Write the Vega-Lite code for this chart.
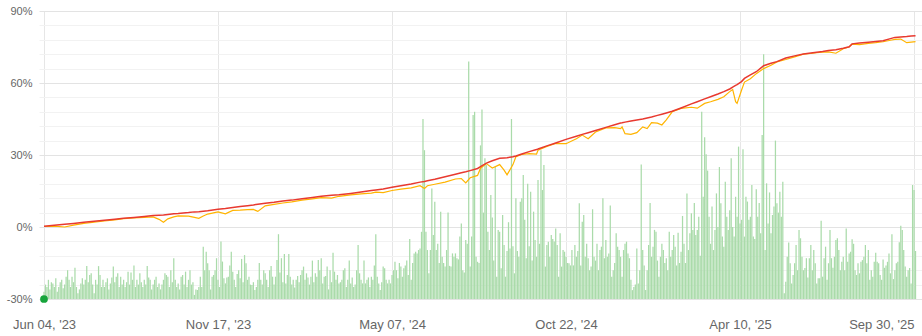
{
"$schema":"https://vega.github.io/schema/vega-lite/v6.json",
"width":883,"height":288,
"autosize":{"type":"none"},
"padding":{"left":39,"top":11,"right":0,"bottom":37},
"background":"white",
"config":{"view":{"stroke":null},"axis":{"domain":false,"ticks":false,"labelColor":"#666666","labelFont":"Liberation Sans","title":null,"labelOverlap":false,"labelFlush":false,"labelBound":false},
 "axisY":{"labelFontSize":11,"labelPadding":7},"axisX":{"labelFontSize":13,"labelPadding":19}},
"resolve":{"axis":{"y":"independent"}},
"datasets":{
"bars":[
{"i":0,"v":-27},{"i":1,"v":-24},{"i":2,"v":-25},{"i":3,"v":-22},{"i":4,"v":-26},{"i":5,"v":-23},{"i":6,"v":-23.5},{"i":7,"v":-25},{"i":8,"v":-21.4},{"i":9,"v":-27},
{"i":10,"v":-25},{"i":11,"v":-23},{"i":12,"v":-22},{"i":13,"v":-25.5},{"i":14,"v":-24},{"i":15,"v":-20.7},{"i":16,"v":-18},{"i":17,"v":-22},{"i":18,"v":-25},{"i":19,"v":-20.7},
{"i":20,"v":-23},{"i":21,"v":-17},{"i":22,"v":-25},{"i":23,"v":-27.6},{"i":24,"v":-26},{"i":25,"v":-23.5},{"i":26,"v":-21.4},{"i":27,"v":-24},{"i":28,"v":-22},{"i":29,"v":-16.3},
{"i":30,"v":-23},{"i":31,"v":-20},{"i":32,"v":-19.3},{"i":33,"v":-24},{"i":34,"v":-27.6},{"i":35,"v":-22},{"i":36,"v":-24},{"i":37,"v":-16.3},{"i":38,"v":-20},{"i":39,"v":-25},
{"i":40,"v":-22},{"i":41,"v":-25},{"i":42,"v":-23},{"i":43,"v":-21.4},{"i":44,"v":-26},{"i":45,"v":-23.5},{"i":46,"v":-21},{"i":47,"v":-16.5},{"i":48,"v":-23},{"i":49,"v":-20.7},
{"i":50,"v":-19.3},{"i":51,"v":-25},{"i":52,"v":-20.7},{"i":53,"v":-24},{"i":54,"v":-22},{"i":55,"v":-25},{"i":56,"v":-23},{"i":57,"v":-18.6},{"i":58,"v":-24},{"i":59,"v":-19},
{"i":60,"v":-22},{"i":61,"v":-16},{"i":62,"v":-25},{"i":63,"v":-22},{"i":64,"v":-24},{"i":65,"v":-19.3},{"i":66,"v":-23},{"i":67,"v":-25},{"i":68,"v":-22},{"i":69,"v":-24},
{"i":70,"v":-16.3},{"i":71,"v":-21},{"i":72,"v":-22},{"i":73,"v":-26},{"i":74,"v":-24},{"i":75,"v":-22},{"i":76,"v":-20.7},{"i":77,"v":-25},{"i":78,"v":-23.5},{"i":79,"v":-26},
{"i":80,"v":-24},{"i":81,"v":-22},{"i":82,"v":-19.3},{"i":83,"v":-20},{"i":84,"v":-20.7},{"i":85,"v":-25},{"i":86,"v":-18},{"i":87,"v":-23},{"i":88,"v":-13},{"i":89,"v":-22},
{"i":90,"v":-25},{"i":91,"v":-23.5},{"i":92,"v":-26},{"i":93,"v":-20.7},{"i":94,"v":-20},{"i":95,"v":-24},{"i":96,"v":-18.6},{"i":97,"v":-25},{"i":98,"v":-22},{"i":99,"v":-18},
{"i":100,"v":-24},{"i":101,"v":-23},{"i":102,"v":-28.3},{"i":103,"v":-26},{"i":104,"v":-26.3},{"i":105,"v":-25},{"i":106,"v":-20.7},{"i":107,"v":-25},{"i":108,"v":-8.2},{"i":109,"v":-18},
{"i":110,"v":-10.3},{"i":111,"v":-15.1},{"i":112,"v":-18},{"i":113,"v":-26},{"i":114,"v":-20.7},{"i":115,"v":-20},{"i":116,"v":-18},{"i":117,"v":-13},{"i":118,"v":-22},{"i":119,"v":-25},
{"i":120,"v":-6},{"i":121,"v":-14.4},{"i":122,"v":-21.4},{"i":123,"v":-23.5},{"i":124,"v":-21},{"i":125,"v":-20.7},{"i":126,"v":-16},{"i":127,"v":-10.3},{"i":128,"v":-18.6},{"i":129,"v":-22},
{"i":130,"v":-25},{"i":131,"v":-19.6},{"i":132,"v":-18},{"i":133,"v":-21.4},{"i":134,"v":-13.3},{"i":135,"v":-23},{"i":136,"v":-11.7},{"i":137,"v":-15.1},{"i":138,"v":-22},{"i":139,"v":-20.7},
{"i":140,"v":-24},{"i":141,"v":-24.2},{"i":142,"v":-23},{"i":143,"v":-26.3},{"i":144,"v":-25},{"i":145,"v":-22},{"i":146,"v":-15},{"i":147,"v":-22},{"i":148,"v":-24},{"i":149,"v":-18},
{"i":150,"v":-19.3},{"i":151,"v":-22},{"i":152,"v":-25},{"i":153,"v":-18},{"i":154,"v":-16.3},{"i":155,"v":-20.7},{"i":156,"v":-24},{"i":157,"v":-20.7},{"i":158,"v":-13.8},{"i":159,"v":-3},
{"i":160,"v":-19},{"i":161,"v":-13},{"i":162,"v":-23},{"i":163,"v":-11.2},{"i":164,"v":-23.5},{"i":165,"v":-20},{"i":166,"v":-11.2},{"i":167,"v":-20.7},{"i":168,"v":-24},{"i":169,"v":-22},
{"i":170,"v":-25.2},{"i":171,"v":-22},{"i":172,"v":-20.4},{"i":173,"v":-23},{"i":174,"v":-20},{"i":175,"v":-18},{"i":176,"v":-16.5},{"i":177,"v":-22},{"i":178,"v":-19.3},{"i":179,"v":-21},
{"i":180,"v":-24},{"i":181,"v":-20.7},{"i":182,"v":-14},{"i":183,"v":-23},{"i":184,"v":-19.3},{"i":185,"v":-20.7},{"i":186,"v":-13.8},{"i":187,"v":-18},{"i":188,"v":-13},{"i":189,"v":-23.5},
{"i":190,"v":-20.7},{"i":191,"v":-20.4},{"i":192,"v":-16.5},{"i":193,"v":-26},{"i":194,"v":-18},{"i":195,"v":-23},{"i":196,"v":-10.7},{"i":197,"v":-18.6},{"i":198,"v":-22},{"i":199,"v":-20},
{"i":200,"v":-23.5},{"i":201,"v":-23},{"i":202,"v":-22},{"i":203,"v":-18},{"i":204,"v":-17.2},{"i":205,"v":-25},{"i":206,"v":-22},{"i":207,"v":-14},{"i":208,"v":-23.5},{"i":209,"v":-21},
{"i":210,"v":-25},{"i":211,"v":-24},{"i":212,"v":-18},{"i":213,"v":-7.5},{"i":214,"v":-19.3},{"i":215,"v":-22},{"i":216,"v":-23.5},{"i":217,"v":-14},{"i":218,"v":-23.5},{"i":219,"v":-22},
{"i":220,"v":-21},{"i":221,"v":-25},{"i":222,"v":-20.7},{"i":223,"v":-22},{"i":224,"v":-16},{"i":225,"v":-3},{"i":226,"v":-20.7},{"i":227,"v":-23.5},{"i":228,"v":-26.3},{"i":229,"v":-23},
{"i":230,"v":-16.5},{"i":231,"v":-17.2},{"i":232,"v":-22},{"i":233,"v":-23.5},{"i":234,"v":-22},{"i":235,"v":-23.5},{"i":236,"v":-20},{"i":237,"v":-18},{"i":238,"v":-14.5},{"i":239,"v":-18},
{"i":240,"v":-21.4},{"i":241,"v":-15},{"i":242,"v":-16.5},{"i":243,"v":-20.7},{"i":244,"v":-17.2},{"i":245,"v":-16},{"i":246,"v":-14},{"i":247,"v":-20},{"i":248,"v":-5},{"i":249,"v":-22},
{"i":250,"v":-15},{"i":251,"v":-11},{"i":252,"v":-10.3},{"i":253,"v":-11},{"i":254,"v":-9.6},{"i":255,"v":-9},{"i":256,"v":-2},{"i":257,"v":45},{"i":258,"v":32},{"i":259,"v":-2},
{"i":260,"v":-9.6},{"i":261,"v":-19.3},{"i":262,"v":-9.6},{"i":263,"v":16},{"i":264,"v":-3.3},{"i":265,"v":10.5},{"i":266,"v":-9.6},{"i":267,"v":-7},{"i":268,"v":-15},{"i":269,"v":6.4},
{"i":270,"v":-12.4},{"i":271,"v":-15},{"i":272,"v":-16.5},{"i":273,"v":-9.6},{"i":274,"v":6},{"i":275,"v":-16.2},{"i":276,"v":-16.5},{"i":277,"v":-11},{"i":278,"v":-12.4},{"i":279,"v":-11},
{"i":280,"v":-13},{"i":281,"v":-13.5},{"i":282,"v":-4},{"i":283,"v":1.5},{"i":284,"v":-18},{"i":285,"v":-19},{"i":286,"v":-5.4},{"i":287,"v":-7},{"i":288,"v":69},{"i":289,"v":-16.5},
{"i":290,"v":-4},{"i":291,"v":46.7},{"i":292,"v":48},{"i":293,"v":-12.4},{"i":294,"v":-14.5},{"i":295,"v":-15},{"i":296,"v":34},
{"i":297,"v":49},{"i":298,"v":6},{"i":299,"v":28.6},{"i":300,"v":25.8},{"i":301,"v":-2},{"i":302,"v":-9.6},{"i":303,"v":13.3},{"i":304,"v":4},{"i":305,"v":-14},{"i":306,"v":25},
{"i":307,"v":-20.7},{"i":308,"v":-1.2},{"i":309,"v":-2},{"i":310,"v":-17.2},{"i":311,"v":5},{"i":312,"v":-7.5},{"i":313,"v":-20.7},{"i":314,"v":-10},{"i":315,"v":2},{"i":316,"v":-9},
{"i":317,"v":45},{"i":318,"v":-8},{"i":319,"v":-19.3},{"i":320,"v":12},{"i":321,"v":-10},{"i":322,"v":-12.4},{"i":323,"v":10.5},{"i":324,"v":12},{"i":325,"v":21.7},{"i":326,"v":3},
{"i":327,"v":-13},{"i":328,"v":18},{"i":329,"v":-8},{"i":330,"v":14.7},{"i":331,"v":-14},{"i":332,"v":6.4},{"i":333,"v":-5.4},{"i":334,"v":-12.4},{"i":335,"v":19.6},{"i":336,"v":-7},
{"i":337,"v":32},{"i":338,"v":15.4},{"i":339,"v":25.8},{"i":340,"v":-16.5},{"i":341,"v":-7.5},{"i":342,"v":-6.1},{"i":343,"v":-12.4},{"i":344,"v":-3.3},{"i":345,"v":-5},{"i":346,"v":-6},
{"i":347,"v":-0.6},{"i":348,"v":-7.5},{"i":349,"v":-20.7},{"i":350,"v":-2.6},{"i":351,"v":-16.5},{"i":352,"v":-9.6},{"i":353,"v":-10.3},{"i":354,"v":-12.4},{"i":355,"v":-15},{"i":356,"v":-15.1},
{"i":357,"v":-16},{"i":358,"v":-9.6},{"i":359,"v":-16},{"i":360,"v":-7.5},{"i":361,"v":-12.4},{"i":362,"v":-10},{"i":363,"v":9.9},{"i":364,"v":-16},{"i":365,"v":2.2},{"i":366,"v":5},
{"i":367,"v":-12.4},{"i":368,"v":-7},{"i":369,"v":-13},{"i":370,"v":-18},{"i":371,"v":-16.5},{"i":372,"v":7.4},{"i":373,"v":-12.4},{"i":374,"v":-14},{"i":375,"v":-7},{"i":376,"v":-18},
{"i":377,"v":-9.6},{"i":378,"v":-8.2},{"i":379,"v":12},{"i":380,"v":-13},{"i":381,"v":-5.4},{"i":382,"v":-12.4},{"i":383,"v":-11},{"i":384,"v":9},{"i":385,"v":-20.7},{"i":386,"v":-18},
{"i":387,"v":-15},{"i":388,"v":-2.6},{"i":389,"v":-8.2},{"i":390,"v":-9.6},{"i":391,"v":-12.4},{"i":392,"v":-20.7},{"i":393,"v":-9.6},{"i":394,"v":-7},
{"i":395,"v":-6.1},{"i":396,"v":-11},{"i":397,"v":-13},{"i":398,"v":-22},{"i":399,"v":-26.3},{"i":400,"v":-25},{"i":401,"v":-24},{"i":402,"v":-9},{"i":403,"v":-23.5},{"i":404,"v":-18},
{"i":405,"v":26},{"i":406,"v":-9.6},{"i":407,"v":-16},{"i":408,"v":-26.3},{"i":409,"v":-18},{"i":410,"v":-7.5},{"i":411,"v":10},{"i":412,"v":-12.4},{"i":413,"v":-8.2},{"i":414,"v":-1.2},
{"i":415,"v":-2},{"i":416,"v":-14},{"i":417,"v":-20.7},{"i":418,"v":-12.4},{"i":419,"v":-7},{"i":420,"v":-9.6},{"i":421,"v":-15},{"i":422,"v":-13},{"i":423,"v":-18},{"i":424,"v":-2},
{"i":425,"v":-12.4},{"i":426,"v":-9.6},{"i":427,"v":-3.3},{"i":428,"v":-8.2},{"i":429,"v":-16},{"i":430,"v":-2.4},{"i":431,"v":-15},{"i":432,"v":-10.3},{"i":433,"v":4.6},{"i":434,"v":-7},
{"i":435,"v":-15},{"i":436,"v":14},{"i":437,"v":-9.6},{"i":438,"v":-2.6},{"i":439,"v":5.7},{"i":440,"v":-1.2},{"i":441,"v":10},{"i":442,"v":-3.3},{"i":443,"v":-1.2},{"i":444,"v":4.3},
{"i":445,"v":-12},{"i":446,"v":48},{"i":447,"v":12.6},{"i":448,"v":37.4},{"i":449,"v":30.3},{"i":450,"v":23.5},{"i":451,"v":4.3},{"i":452,"v":-7},{"i":453,"v":8.5},{"i":454,"v":-9.6},
{"i":455,"v":-1.2},{"i":456,"v":14},{"i":457,"v":0},{"i":458,"v":25},{"i":459,"v":9.9},{"i":460,"v":-4},{"i":461,"v":-8.2},{"i":462,"v":18.9},{"i":463,"v":4.3},{"i":464,"v":-1.2},
{"i":465,"v":7},{"i":466,"v":28.6},{"i":467,"v":0},{"i":468,"v":-4},{"i":469,"v":12.6},{"i":470,"v":4.3},{"i":471,"v":33.5},{"i":472,"v":1.5},{"i":473,"v":3},{"i":474,"v":32.4},
{"i":475,"v":-4},{"i":476,"v":12.6},{"i":477,"v":10.6},{"i":478,"v":3},{"i":479,"v":4.3},{"i":480,"v":17.5},{"i":481,"v":-4},{"i":482,"v":-5},{"i":483,"v":15.7},{"i":484,"v":4.3},
{"i":485,"v":10},{"i":486,"v":-2.6},{"i":487,"v":38.3},{"i":488,"v":72},{"i":489,"v":-9.6},{"i":490,"v":18.2},{"i":491,"v":1.5},{"i":492,"v":14.4},{"i":493,"v":-2.6},
{"i":494,"v":5},{"i":495,"v":8.5},{"i":496,"v":36},{"i":497,"v":9.9},{"i":498,"v":6},{"i":499,"v":14.7},{"i":500,"v":4.3},{"i":501,"v":18.9},{"i":502,"v":-27.6},{"i":503,"v":-22.8},
{"i":504,"v":-12.4},{"i":505,"v":-6.5},{"i":506,"v":-15.1},{"i":507,"v":-23.5},{"i":508,"v":-20},{"i":509,"v":-15.1},{"i":510,"v":-7.5},{"i":511,"v":-18},{"i":512,"v":-1.2},{"i":513,"v":-4.7},
{"i":514,"v":-12.4},{"i":515,"v":-18},{"i":516,"v":-17.1},{"i":517,"v":-13},{"i":518,"v":-21},{"i":519,"v":-13},{"i":520,"v":-7.5},{"i":521,"v":-18},{"i":522,"v":-9.6},{"i":523,"v":-15.1},
{"i":524,"v":-23.5},{"i":525,"v":-21.4},{"i":526,"v":-21.4},{"i":527,"v":2.6},{"i":528,"v":-20.7},{"i":529,"v":-13},{"i":530,"v":-8.2},{"i":531,"v":-22},{"i":532,"v":-15.1},{"i":533,"v":-1.2},
{"i":534,"v":-13},{"i":535,"v":-17},{"i":536,"v":-12.4},{"i":537,"v":-5.4},{"i":538,"v":-4.7},{"i":539,"v":-9.6},{"i":540,"v":-18},{"i":541,"v":-14.5},{"i":542,"v":-12.4},{"i":543,"v":-18},
{"i":544,"v":-0.6},{"i":545,"v":-14.5},{"i":546,"v":-11},{"i":547,"v":-10.3},{"i":548,"v":-5.1},{"i":549,"v":-7},{"i":550,"v":-18},{"i":551,"v":-20},{"i":552,"v":-15.1},{"i":553,"v":-19.3},
{"i":554,"v":-14.5},{"i":555,"v":-13.8},{"i":556,"v":-12.4},{"i":557,"v":-7.5},{"i":558,"v":-15.1},{"i":559,"v":-9.6},{"i":560,"v":-22},{"i":561,"v":-18},{"i":562,"v":-20.7},{"i":563,"v":-14.5},
{"i":564,"v":-10.7},{"i":565,"v":-14.5},{"i":566,"v":-15.1},{"i":567,"v":-20},{"i":568,"v":-22},{"i":569,"v":-13.5},{"i":570,"v":-17},{"i":571,"v":-16},{"i":572,"v":-14.5},{"i":573,"v":-11},
{"i":574,"v":-19.3},{"i":575,"v":-3},{"i":576,"v":-21.7},{"i":577,"v":-18},{"i":578,"v":-15.1},{"i":579,"v":-14.5},{"i":580,"v":-6.4},{"i":581,"v":0.5},{"i":582,"v":-1.2},{"i":583,"v":-9.6},
{"i":584,"v":-16.5},{"i":585,"v":-20.7},{"i":586,"v":-18},{"i":587,"v":-17.1},{"i":588,"v":-23.5},{"i":589,"v":17.5},{"i":590,"v":15.4},{"i":591,"v":-10}
],
"lines":[
{"i":0,"r":0.3,"o":0.2},{"i":7,"r":0.7,"o":0.4},{"i":14,"r":1.1,"o":0.0},{"i":20,"r":1.5,"o":0.8},{"i":27,"r":2.0,"o":1.5},{"i":34,"r":2.4,"o":2.0},{"i":41,"r":2.8,"o":2.5},{"i":48,"r":3.2,"o":3.0},{"i":54,"r":3.6,"o":3.5},{"i":61,"r":4.0,"o":3.8},
{"i":68,"r":4.4,"o":4.0},{"i":74,"r":4.8,"o":4.2},{"i":78,"r":4.9,"o":3.2},{"i":81,"r":5.0,"o":2.0},{"i":84,"r":5.2,"o":3.4},{"i":88,"r":5.5,"o":4.2},{"i":91,"r":5.6,"o":4.6},{"i":98,"r":6.0,"o":4.5},{"i":102,"r":6.3,"o":4.0},{"i":105,"r":6.4,"o":3.6},
{"i":108,"r":6.6,"o":4.6},{"i":111,"r":6.8,"o":5.4},{"i":118,"r":7.4,"o":6.3},{"i":123,"r":7.7,"o":5.5},{"i":128,"r":8.1,"o":6.9},{"i":133,"r":8.5,"o":7.0},{"i":138,"r":8.9,"o":7.2},{"i":142,"r":9.2,"o":7.3},{"i":145,"r":9.5,"o":6.5},{"i":150,"r":9.9,"o":8.8},
{"i":156,"r":10.3,"o":9.4},{"i":162,"r":10.8,"o":10.0},{"i":168,"r":11.2,"o":10.5},{"i":175,"r":11.8,"o":11.2},{"i":182,"r":12.3,"o":11.7},{"i":188,"r":12.8,"o":12.2},{"i":195,"r":13.2,"o":12.0},{"i":200,"r":13.4,"o":12.8},{"i":208,"r":14.0,"o":13.4},{"i":215,"r":14.6,"o":13.8},
{"i":222,"r":15.2,"o":14.1},{"i":225,"r":15.4,"o":14.5},{"i":230,"r":15.8,"o":14.3},{"i":236,"r":16.6,"o":15.2},{"i":242,"r":17.2,"o":15.8},{"i":249,"r":17.9,"o":16.3},{"i":255,"r":18.7,"o":17.2},{"i":258,"r":19.0,"o":16.0},{"i":260,"r":19.3,"o":17.2},{"i":265,"r":19.9,"o":17.8},
{"i":272,"r":20.9,"o":18.7},{"i":279,"r":22.0,"o":20.0},{"i":283,"r":22.6,"o":20.2},{"i":286,"r":23.0,"o":18.4},{"i":289,"r":23.5,"o":20.5},{"i":294,"r":24.4,"o":21.5},{"i":296,"r":25.2,"o":24.5},{"i":300,"r":26.6,"o":26.4},{"i":304,"r":27.6,"o":24.6},{"i":309,"r":28.6,"o":26.0},
{"i":312,"r":28.8,"o":23.7},{"i":314,"r":28.9,"o":21.7},{"i":318,"r":29.3,"o":26.0},{"i":320,"r":29.6,"o":29.3},{"i":324,"r":30.4,"o":30.2},{"i":329,"r":31.4,"o":30.6},{"i":334,"r":32.3,"o":30.4},{"i":335,"r":32.5,"o":32.0},{"i":341,"r":33.8,"o":33.6},{"i":347,"r":35.0,"o":34.8},
{"i":354,"r":36.5,"o":34.7},{"i":361,"r":37.8,"o":36.8},{"i":365,"r":38.6,"o":38.3},{"i":369,"r":39.3,"o":36.8},{"i":374,"r":40.2,"o":39.6},{"i":381,"r":41.5,"o":41.3},{"i":387,"r":42.6,"o":41.4},{"i":391,"r":43.3,"o":41.0},{"i":392,"r":43.4,"o":41.7},{"i":394,"r":43.7,"o":38.9},
{"i":398,"r":44.2,"o":38.6},{"i":402,"r":44.6,"o":39.3},{"i":406,"r":45.0,"o":41.7},{"i":409,"r":45.4,"o":41.0},{"i":412,"r":45.8,"o":43.5},{"i":416,"r":46.5,"o":43.3},{"i":419,"r":47.0,"o":42.5},{"i":422,"r":47.5,"o":44.6},{"i":426,"r":48.2,"o":48.0},{"i":432,"r":49.6,"o":49.4},
{"i":439,"r":51.3,"o":49.9},{"i":443,"r":52.2,"o":49.5},{"i":448,"r":53.4,"o":51.5},{"i":452,"r":54.3,"o":52.2},{"i":457,"r":55.4,"o":53.2},{"i":461,"r":56.4,"o":54.3},{"i":465,"r":57.5,"o":56.4},{"i":467,"r":58.3,"o":57.3},{"i":469,"r":59.0,"o":52.2},{"i":470,"r":59.3,"o":51.5},
{"i":473,"r":60.6,"o":57.0},{"i":475,"r":61.9,"o":60.4},{"i":479,"r":63.4,"o":61.8},{"i":483,"r":64.7,"o":63.9},{"i":488,"r":67.2,"o":66.0},{"i":493,"r":68.2,"o":67.4},{"i":497,"r":68.9,"o":68.8},{"i":503,"r":70.4,"o":69.8},{"i":509,"r":71.3,"o":70.9},{"i":515,"r":72.1,"o":72.0},
{"i":520,"r":72.5,"o":72.3},{"i":524,"r":72.8,"o":72.6},{"i":528,"r":73.1,"o":72.9},{"i":532,"r":73.5,"o":73.0},{"i":537,"r":73.9,"o":72.4},{"i":542,"r":74.5,"o":74.3},{"i":546,"r":75.1,"o":75.0},{"i":548,"r":76.3,"o":76.2},{"i":553,"r":76.7,"o":76.0},{"i":559,"r":77.0,"o":76.5},
{"i":564,"r":77.3,"o":76.8},{"i":569,"r":77.6,"o":77.2},{"i":574,"r":78.5,"o":77.8},{"i":577,"r":79.0,"o":78.2},{"i":581,"r":79.2,"o":78.3},{"i":585,"r":79.4,"o":76.8},{"i":588,"r":79.6,"o":77.0},{"i":591,"r":79.7,"o":77.2}
],
"start":[{"i":0,"v":-30}]
},
"layer":[
{"data":{"name":"bars"},
 "mark":{"type":"bar","width":1.25,"color":"#aadbaa"},
 "encoding":{
  "x":{"field":"i","type":"quantitative","scale":{"domain":[0,592],"nice":false,"zero":false},
   "axis":{"values":[0,118,236,354,472,590],"grid":true,"gridColor":"#e6e6e6","labelFontSize":13,"labelPadding":19,"labelFlush":false,"labelOverlap":false,
    "labelAlign":{"condition":{"test":"datum.value == 590","value":"right"},"value":"center"},
    "labelExpr":"datum.value == 0 ? \"Jun 04, '23\" : datum.value == 118 ? \"Nov 17, '23\" : datum.value == 236 ? \"May 07, '24\" : datum.value == 354 ? \"Oct 22, '24\" : datum.value == 472 ? \"Apr 10, '25\" : \"Sep 30, '25\""}},
  "y":{"field":"v","type":"quantitative","scale":{"domain":[-30,90],"nice":false,"zero":false},
   "axis":{"orient":"left","values":[-30,0,30,60,90],"grid":true,"gridColor":"#e3e3e3","labelExpr":"datum.value + '%'","labelFontSize":11,"labelPadding":7,"labelFlush":false,"labelOverlap":false}},
  "y2":{"datum":-30}
 }},
{"data":{"name":"lines"},
 "mark":{"type":"line","color":"#ffb400","strokeWidth":1.2},
 "encoding":{"x":{"field":"i","type":"quantitative"},
  "y":{"field":"o","type":"quantitative","axis":{"orient":"left","values":[-24,-18,-12,-6,6,12,18,24,36,42,48,54,66,72,78,84],"grid":true,"gridColor":"#f2f2f2","labels":false}}}},
{"data":{"name":"lines"},
 "mark":{"type":"line","color":"#e8392f","strokeWidth":1.5},
 "encoding":{"x":{"field":"i","type":"quantitative"},"y":{"field":"r","type":"quantitative","axis":null}}},
{"data":{"name":"start"},
 "mark":{"type":"point","filled":true,"color":"#17a43b","size":60,"opacity":1},
 "encoding":{"x":{"field":"i","type":"quantitative"},"y":{"field":"v","type":"quantitative","axis":null}}}
]
}
